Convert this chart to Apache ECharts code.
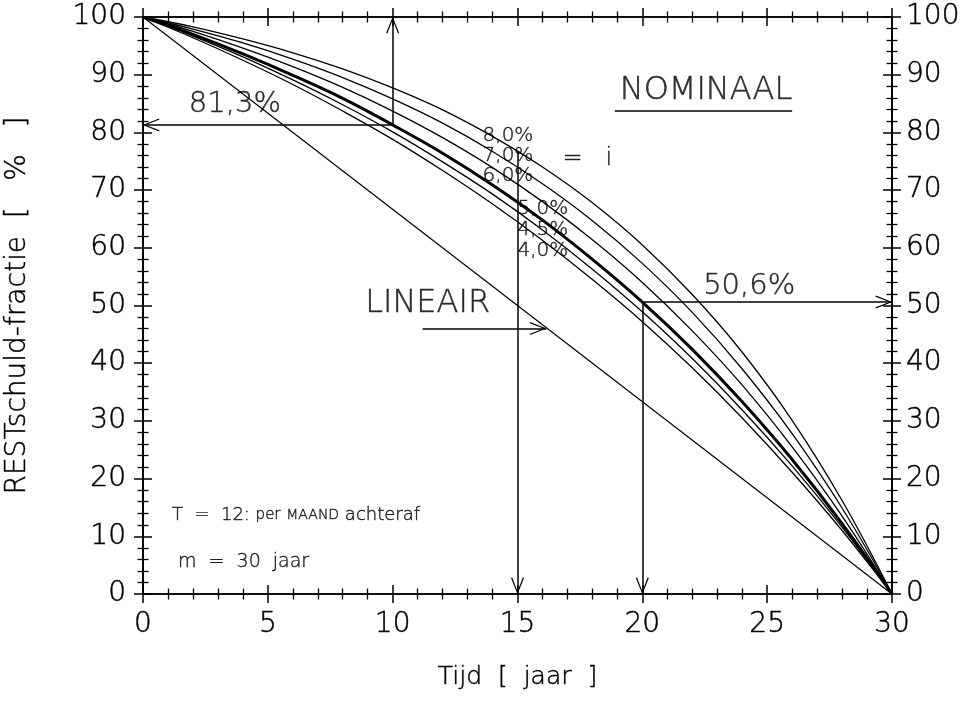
<!DOCTYPE html>
<html>
<head>
<meta charset="utf-8">
<script src="https://cdn.jsdelivr.net/npm/echarts@6/dist/echarts.min.js"></script>
<style>html,body{margin:0;padding:0;background:#fff}#c{width:968px;height:715px}</style>
</head>
<body>
<div id="c"></div>
<script>
// ---- data (remaining debt fraction, %) ----
const years = [0, 2, 4, 6, 8, 10, 12, 14, 16, 18, 20, 22, 24, 26, 28, 30];
const rate40 = [100, 96.4, 92.5, 88.3, 83.7, 78.8, 73.4, 67.6, 61.3, 54.5, 47.2, 39.2, 30.5, 21.1, 11.0, 0];
const rate45 = [100, 96.7, 93.1, 89.1, 84.8, 80.1, 74.9, 69.3, 63.1, 56.3, 48.9, 40.8, 31.9, 22.2, 11.6, 0];
const rate50 = [100, 97.0, 93.6, 89.9, 85.9, 81.3, 76.4, 70.9, 64.8, 58.0, 50.6, 42.4, 33.3, 23.3, 12.2, 0];
const rate60 = [100, 97.5, 94.6, 91.4, 87.8, 83.7, 79.1, 73.9, 68.0, 61.4, 54.0, 45.6, 36.2, 25.5, 13.5, 0];
const rate70 = [100, 97.9, 95.5, 92.7, 89.5, 85.8, 81.6, 76.7, 71.1, 64.7, 57.3, 48.8, 39.0, 27.8, 14.9, 0];
const rate80 = [100, 98.3, 96.2, 93.8, 91.0, 87.7, 83.9, 79.3, 74.0, 67.8, 60.5, 51.9, 41.9, 30.1, 16.2, 0];
const linearX = [0, 30];
const linearY = [100, 0];
const xTicks = [0, 5, 10, 15, 20, 25, 30];
const yTicks = [0, 10, 20, 30, 40, 50, 60, 70, 80, 90, 100];
// read-off values shown with arrows
const readAt10 = 81.3;   // 5% curve at t = 10
const readAt20 = 50.6;   // 5% curve at t = 20
const readAt15 = 76.7;   // 8% curve at t = 15

const FONT = '"DejaVu Sans", "Liberation Sans", sans-serif';
const BLACK = '#000';
const ARROW = 'path://M0,-16L0.01,-16M0,0L6.5,16L5.3,16.5L0,2.9L-5.3,16.5L-6.5,16Z';
const TB = { textBorderColor: BLACK, textBorderWidth: 0.45 };

function pairs(xs, ys) { return xs.map((x, i) => [x, ys[i]]); }
function fmtPct(v) { return v.toFixed(1).replace('.', ',') + '%'; }

function makeAxis(dim, pos, inside, withLabels) {
  return {
    type: 'value', position: pos, min: 0,
    max: dim === 'x' ? xTicks[xTicks.length - 1] : yTicks[yTicks.length - 1],
    interval: dim === 'x' ? xTicks[1] - xTicks[0] : yTicks[1] - yTicks[0],
    splitLine: { show: false },
    axisLine: { show: true, onZero: false, lineStyle: { color: BLACK, width: 1.7 } },
    axisTick: { show: true, inside: inside, length: 9, lineStyle: { color: BLACK, width: 1.5 } },
    minorTick: { show: true, splitNumber: 5, length: 5.5, lineStyle: { color: BLACK, width: 1.3 } },
    axisLabel: Object.assign({ show: withLabels, color: BLACK, fontFamily: FONT, fontWeight: 200, fontSize: 28,
                 margin: dim === 'x' ? 17 : (pos === 'left' ? 17 : 14) }, TB),
    silent: true
  };
}

const xAxes = [
  Object.assign(makeAxis('x', 'bottom', false, true), {
    name: 'Tijd  [  jaar  ]', nameLocation: 'middle', nameGap: 71,
    nameTextStyle: Object.assign({ color: BLACK, fontFamily: FONT, fontWeight: 200, fontSize: 25 }, TB)
  }),
  makeAxis('x', 'bottom', true, false),
  makeAxis('x', 'top', false, false),
  makeAxis('x', 'top', true, false)
];
const yAxes = [
  Object.assign(makeAxis('y', 'left', false, true), {
    name: 'RESTschuld-fractie  [   %   ]', nameLocation: 'middle', nameGap: 111, nameRotate: 90,
    nameTextStyle: Object.assign({ color: BLACK, fontFamily: FONT, fontWeight: 200, fontSize: 28 }, TB)
  }),
  makeAxis('y', 'left', true, false),
  makeAxis('y', 'right', false, true),
  makeAxis('y', 'right', true, false)
];

function curve(name, ys, width) {
  return {
    name: name, type: 'line', data: pairs(years, ys), smooth: 0.4, symbol: 'none',
    lineStyle: { color: BLACK, width: width }, silent: true, z: 3
  };
}

function arrowLine(from, to) {
  return [{ coord: from, symbol: 'none' }, { coord: to, symbol: ARROW, symbolSize: [13, 33] }];
}

const label = (txt, size, extra) => Object.assign({ show: true, formatter: txt, color: BLACK,
  fontFamily: FONT, fontWeight: 200, fontSize: size }, TB, extra || {});
const richStyle = (size) => Object.assign({ fontFamily: FONT, fontWeight: 200, fontSize: size, color: BLACK }, TB);

const notes = [
  { value: [3.68, 84.9], label: label(fmtPct(readAt10), 29, { position: 'inside' }) },
  { value: [24.28, 53.3], label: label(fmtPct(readAt20), 29, { position: 'inside' }) },
  { value: [11.4, 50.3], label: label('LINEAIR', 32, { position: 'inside' }) },
  { value: [22.55, 87.3], label: label('NOMINAAL', 32, { position: 'inside' }) },
  { value: [13.6, 79.4], label: label('8,0%', 20, { position: 'right', distance: 0 }) },
  { value: [13.6, 75.9], label: label('7,0%', 20, { position: 'right', distance: 0 }) },
  { value: [13.6, 72.4], label: label('6,0%', 20, { position: 'right', distance: 0 }) },
  { value: [16.8, 75.4], label: label('=   i', 24, { position: 'right', distance: 0 }) },
  { value: [15.0, 66.7], label: label('5,0%', 20, { position: 'right', distance: 0 }) },
  { value: [15.0, 63.1], label: label('4,5%', 20, { position: 'right', distance: 0 }) },
  { value: [15.0, 59.4], label: label('4,0%', 20, { position: 'right', distance: 0 }) },
  { value: [1.16, 13.7], label: label('{a|T  =  12:} {b|per} {c|MAAND} {a|achteraf}', 18, {
      position: 'right', distance: 0,
      rich: { a: richStyle(18), b: richStyle(15), c: richStyle(14) } }) },
  { value: [1.4, 5.6], label: label('m  =  30  jaar', 19, { position: 'right', distance: 0 }) }
];

const option = {
  animation: false,
  backgroundColor: '#fff',
  textStyle: { fontFamily: FONT },
  grid: { left: 143, right: 76, top: 17, bottom: 121, containLabel: false, outerBoundsMode: 'none' },
  xAxis: xAxes,
  yAxis: yAxes,
  series: [
    curve('4,0%', rate40, 1.3),
    curve('4,5%', rate45, 1.3),
    curve('5,0%', rate50, 3),
    curve('6,0%', rate60, 1.3),
    curve('7,0%', rate70, 1.3),
    curve('8,0%', rate80, 1.3),
    {
      name: 'LINEAIR', type: 'line', data: pairs(linearX, linearY), symbol: 'none',
      lineStyle: { color: BLACK, width: 1.2 }, silent: true, z: 3,
      markLine: {
        silent: true, animation: false, symbol: 'none',
        label: { show: false },
        lineStyle: { color: BLACK, width: 1.5, type: 'solid' },
        emphasis: { disabled: true },
        data: [
          arrowLine([10, readAt10], [10, 100]),
          arrowLine([10, readAt10], [0, readAt10]),
          arrowLine([15, readAt15], [15, 0]),
          arrowLine([20, readAt20], [20, 0]),
          arrowLine([20, readAt20], [30, readAt20]),
          arrowLine([11.2, 46.0], [16.15, 46.0]),
          [{ coord: [18.9, 83.7], symbol: 'none' }, { coord: [26.0, 83.7], symbol: 'none' }]
        ]
      }
    },
    {
      name: 'notes', type: 'scatter', data: notes, symbolSize: 0, silent: true, z: 5,
      itemStyle: { color: 'rgba(0,0,0,0)' }
    }
  ]
};

const chart = echarts.init(document.getElementById('c'), null, { renderer: 'canvas' });
chart.setOption(option);
</script>
</body>
</html>
